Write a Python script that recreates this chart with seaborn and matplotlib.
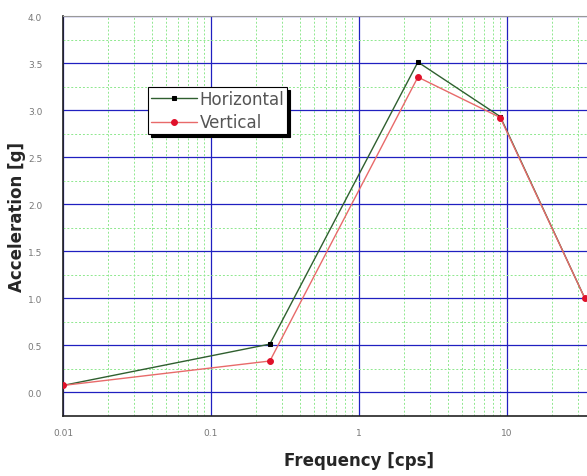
import numpy as np
import pandas as pd
import matplotlib
matplotlib.use('Agg')
import matplotlib.pyplot as plt
import seaborn as sns
from matplotlib.ticker import FixedLocator, LogLocator, NullFormatter, MultipleLocator

# значення
freq = [0.01, 0.25, 2.5, 9.0, 33.5]
horiz = [0.07, 0.51, 3.51, 2.93, 1.0]
vert = [0.07, 0.33, 3.35, 2.92, 1.0]

df_h = pd.DataFrame({'Frequency': freq, 'Acceleration': horiz})
df_v = pd.DataFrame({'Frequency': freq, 'Acceleration': vert})

sns.set_style('white')

fig = plt.figure(figsize=(5.87, 4.77), dpi=100)
# вісь трохи виходить за правий край, як на оригіналі
ax = fig.add_axes([63 / 587, 60 / 477, 592 / 587, 400 / 477])

sns.lineplot(data=df_h, x='Frequency', y='Acceleration', ax=ax, color='#2f5f2f',
             linewidth=1.0, marker='s', markersize=3.2, markerfacecolor='black',
             markeredgecolor='black', label='Horizontal', zorder=4)
sns.lineplot(data=df_v, x='Frequency', y='Acceleration', ax=ax, color='#e86a6a',
             linewidth=1.0, marker='o', markersize=4.2, markerfacecolor='#e0102a',
             markeredgecolor='#e0102a', label='Vertical', zorder=5)

ax.set_xscale('log')
ax.set_xlim(0.01, 100)
ax.set_ylim(-0.255, 4.0)

ax.xaxis.set_major_locator(FixedLocator([0.01, 0.1, 1, 10]))
ax.set_xticklabels(['0.01', '0.1', '1', '10'])
ax.xaxis.set_minor_locator(LogLocator(base=10, subs=np.arange(2, 10)))
ax.xaxis.set_minor_formatter(NullFormatter())
ax.yaxis.set_minor_locator(MultipleLocator(0.25))
ax.set_yticks(np.arange(0, 4.01, 0.5))
ax.set_yticklabels([f'{v:.1f}' for v in np.arange(0, 4.01, 0.5)])

ax.grid(which='major', color='#2020c0', linewidth=0.9, linestyle='-', zorder=1)
ax.grid(which='minor', color='#8ee88e', linewidth=0.7, linestyle=(0, (2, 2)), zorder=1)
ax.set_axisbelow(True)

ax.tick_params(axis='both', which='major', labelsize=6.5, labelcolor='#777777',
               direction='in', length=3, color='#555555')
ax.tick_params(axis='x', which='major', pad=9)
ax.tick_params(axis='y', which='major', pad=15)
ax.tick_params(axis='x', which='minor', direction='in', length=2, color='#555555')
ax.tick_params(axis='y', which='minor', length=0)

for s in ['left', 'bottom']:
    ax.spines[s].set_color('#222222')
    ax.spines[s].set_linewidth(1.2)
ax.spines['top'].set_color('#999999')
ax.spines['right'].set_visible(False)

ax.set_xlabel('Frequency [cps]', fontsize=12, fontweight='bold', labelpad=10)
ax.set_ylabel('Acceleration [g]', fontsize=12, fontweight='bold', labelpad=1)

leg = ax.legend(loc='upper left', bbox_to_anchor=((148 - 63) / 592, (417 - 88) / 400),
                fontsize=12, frameon=True, fancybox=False, shadow={'color': 'black', 'alpha': 1},
                borderpad=0.15, labelspacing=0.35, handlelength=2.8, handletextpad=0.15,
                borderaxespad=0)
leg.get_frame().set_edgecolor('black')
leg.get_frame().set_linewidth(0.8)
for t in leg.get_texts():
    t.set_color('#555555')

fig.savefig('out.png', dpi=100)
